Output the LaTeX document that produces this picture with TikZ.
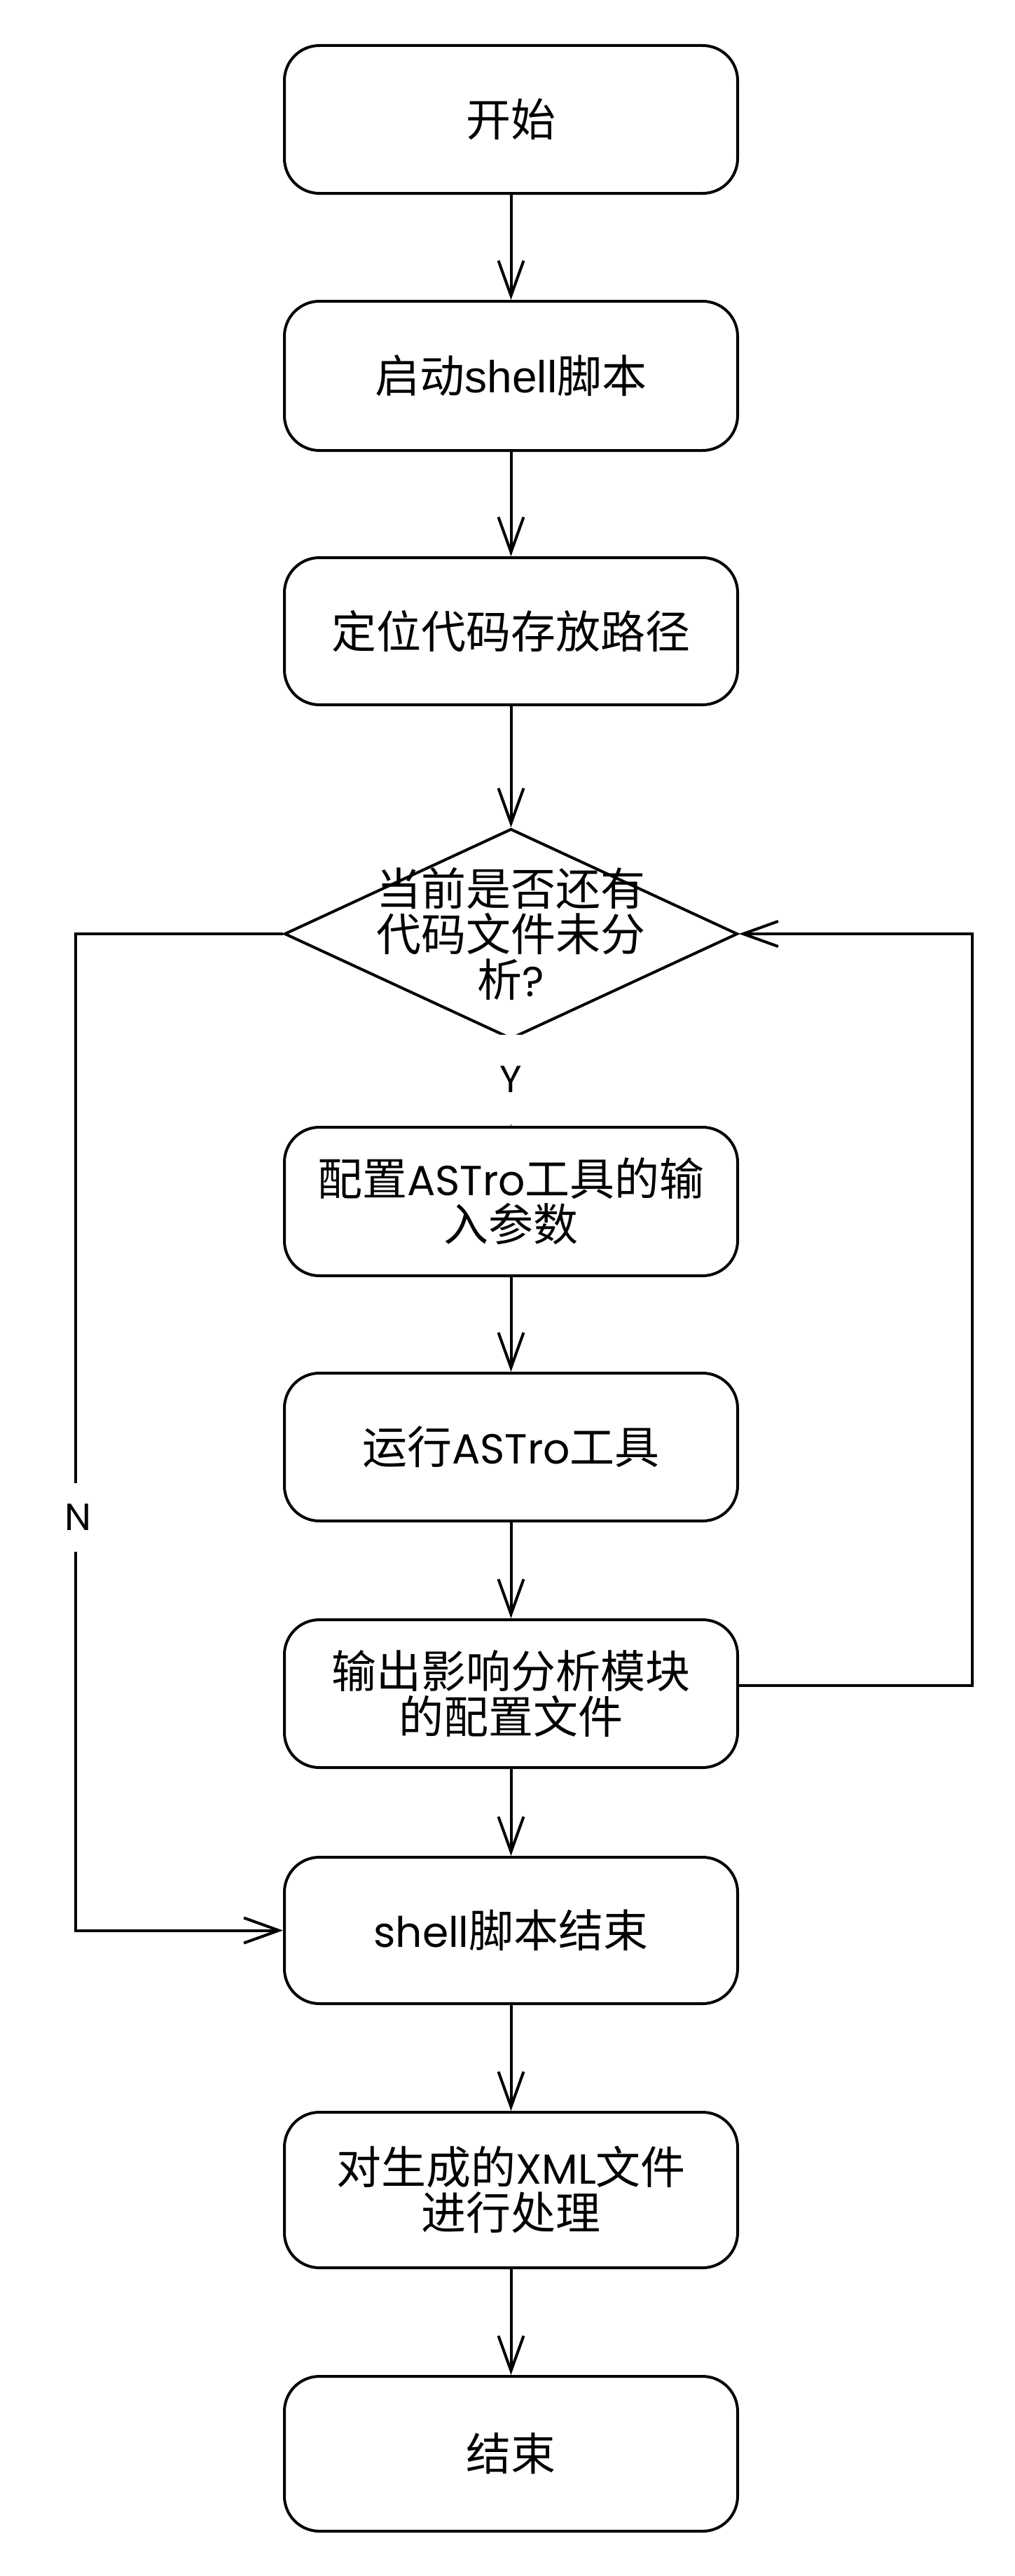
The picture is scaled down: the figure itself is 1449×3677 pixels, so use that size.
\documentclass[tikz,border=0pt]{standalone}
\usepackage{fontspec}
\setmainfont{Noto Sans CJK SC}
\newfontfamily\latfam{Poppins}
\newfontfamily\arifam{Liberation Sans}
\newcommand{\latw}[1]{{\latfam\fontsize{30pt}{32.5pt}\selectfont #1}}
\newcommand{\ariw}[1]{{\arifam #1}}
\usetikzlibrary{arrows.meta,shapes.geometric}
\begin{document}
\begin{tikzpicture}[x=0.5pt,y=-0.5pt,
  every node/.style={font=\fontsize{32pt}{32.5pt}\selectfont},
  box/.style={draw, line width=2pt, rounded corners=25pt, minimum width=323.5pt, align=center, inner sep=0pt},
  arr/.style={draw, line width=2pt, -{Straight Barb[length=25pt,width=18pt]}},
  lbl/.style={fill=white, inner sep=0pt, font=\latfam\fontsize{27pt}{27pt}\selectfont}]
\fill[white] (0,0) rectangle (1449,3677);
\useasboundingbox (0,0) rectangle (1449,3677);
\node[box, minimum height=105.5pt] (b1) at (729.5,170.5) {开始};
\node[box, minimum height=106.5pt] (b2) at (729.5,536.5) {启动\ariw{shell}脚本};
\node[box, minimum height=105pt] (b3) at (729.5,901) {定位代码存放路径};
\node[draw, diamond, line width=2pt, minimum width=323.5pt, minimum height=150pt, inner sep=0pt] (dia) at (729.5,1333) {};
\node[align=center, inner sep=0pt] (dtx) at (729.5,1333) {当前是否还有\\代码文件未分\\析\latw{?}};
\node[box, minimum height=106pt] (b4) at (729.5,1715) {配置\latw{ASTro}工具的输\\入参数};
\node[box, minimum height=105.5pt] (b5) at (729.5,2065.5) {运行\latw{ASTro}工具};
\node[box, minimum height=105.5pt] (b6) at (729.5,2417.5) {输出影响分析模块\\的配置文件};
\node[box, minimum height=104.5pt] (b7) at (729.5,2755.5) {\latw{shell}脚本结束};
\node[box, minimum height=111pt] (b8) at (729.5,3126) {对生成的\latw{XML}文件\\进行处理};
\node[box, minimum height=110.5pt] (b9) at (729.5,3502.5) {结束};
\draw[arr] (b1) -- (b2);
\draw[arr] (b2) -- (b3);
\draw[arr] (b3) -- (dia);
\draw[arr] (dia.south) -- (b4.north);
\draw[arr] (b4) -- (b5);
\draw[arr] (b5) -- (b6);
\draw[arr] (b6) -- (b7);
\draw[arr] (b7) -- (b8);
\draw[arr] (b8) -- (b9);
\draw[arr] ([yshift=6pt]b6.east) -- ++(333,0) |- (dia.east);
\draw[arr] (dia.west) -- ++(-296,0) |- (b7.west);
\node[lbl, minimum width=22pt, minimum height=64pt] (ylab) at (729.5,1541) {Y};
\node[lbl, minimum width=22pt, minimum height=49pt] (nlab) at (111,2166) {N};
\end{tikzpicture}
\end{document}
